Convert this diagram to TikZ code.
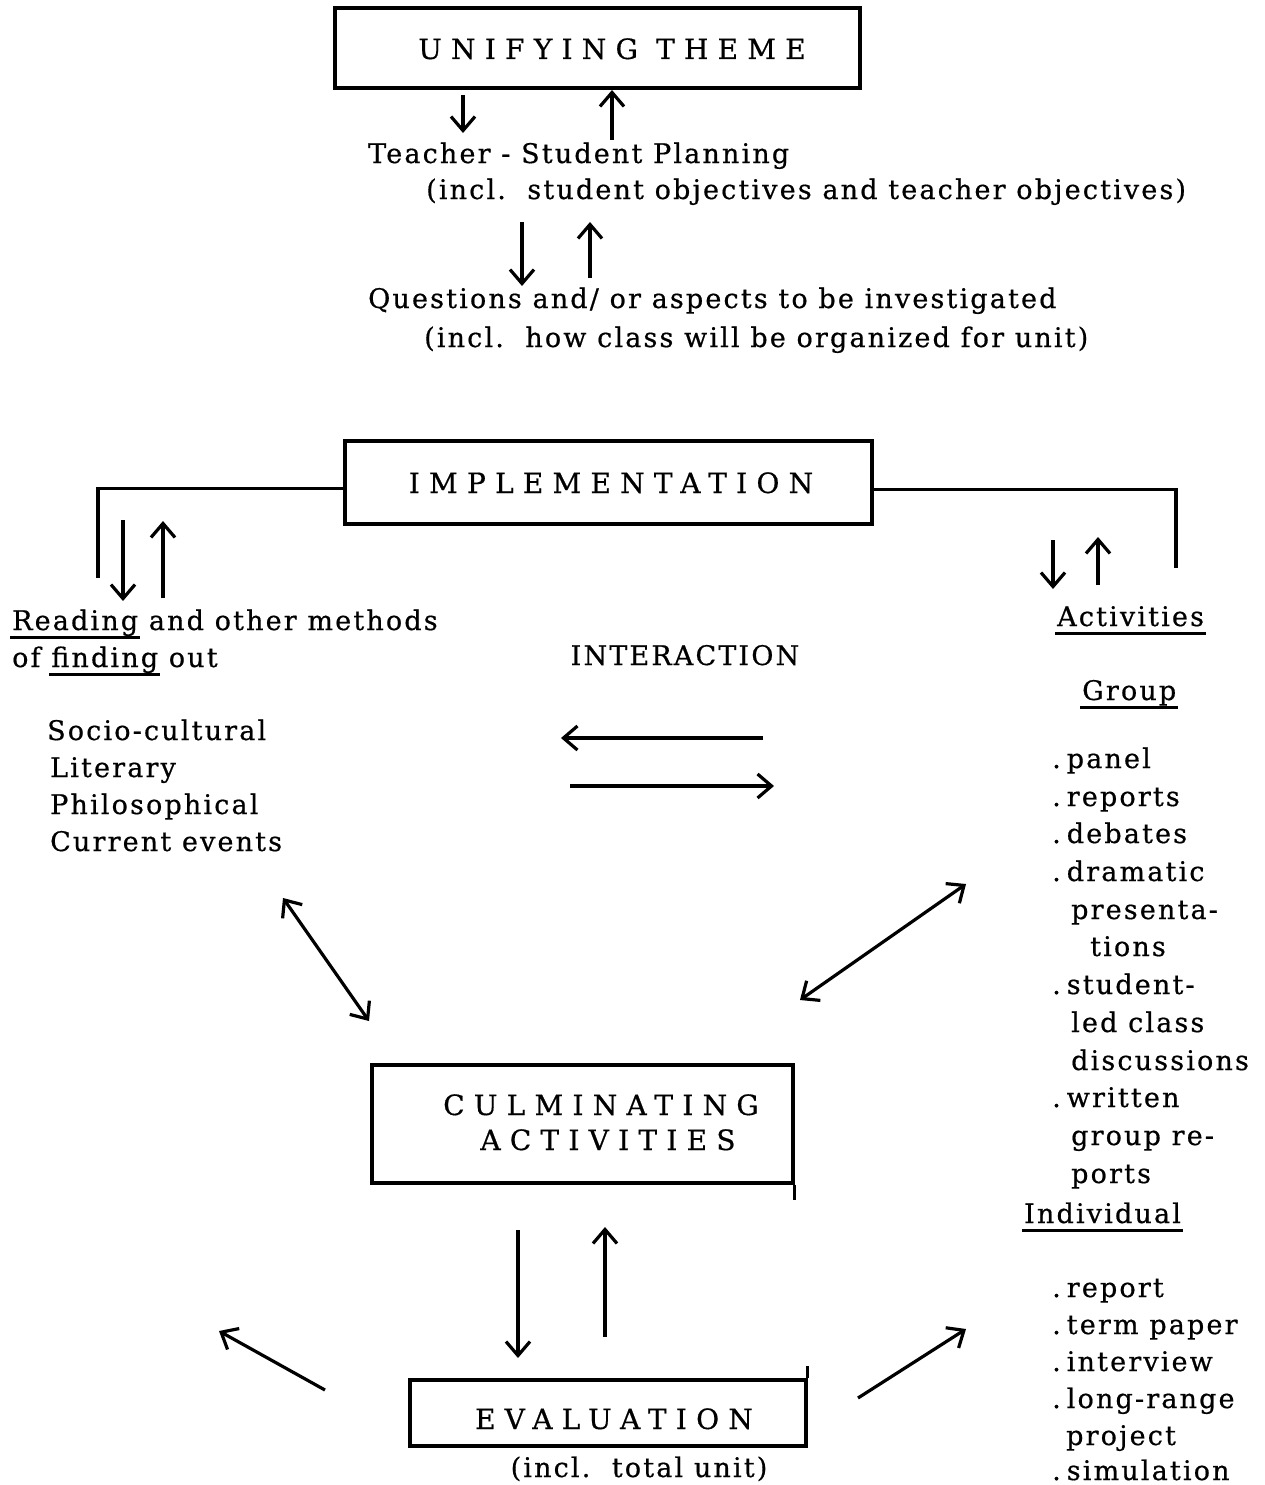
\documentclass[tikz,border=0pt]{standalone}
\usepackage{fontspec}
\setmainfont{DejaVu Serif}
\usetikzlibrary{arrows.meta}
\newcommand\bodysz{\fontsize{27}{32}\selectfont\addfontfeatures{LetterSpace=8,FakeBold=0.6}}
\newcommand\boxsz{\fontsize{28}{33}\selectfont\addfontfeatures{LetterSpace=33,FakeBold=0.6}}
\newcommand\myul[1]{\setbox0=\hbox{#1}\rlap{\kern-2pt\rule[-9pt]{\dimexpr\wd0+4pt\relax}{2.8pt}}\box0\relax}
\newcommand\bul{.\hspace{6pt}}
\tikzset{
  frame/.style={draw, line width=3.2pt, inner sep=0pt},
  conn/.style={line width=3.2pt, -{Straight Barb[length=14pt,width=24pt]}},
  dconn/.style={line width=3.2pt, {Straight Barb[length=14pt,width=24pt]}-{Straight Barb[length=14pt,width=24pt]}},
  plain/.style={line width=3.2pt},
  txt/.style={anchor=base west, inner sep=0pt, font=\bodysz},
  ctxt/.style={anchor=base, inner sep=0pt, font=\bodysz},
  btxt/.style={anchor=base, inner sep=0pt, font=\boxsz},
}
\begin{document}
\begin{tikzpicture}[x=1pt,y=-1pt]
\useasboundingbox (0,0) rectangle (1265,1485);
% boxes
\node[frame, minimum width=525, minimum height=80] (unify) at (597.5,48) {};
\node[btxt] (unifyt) at (612,59) {UNIFYING THEME};
\node[frame, minimum width=527, minimum height=83] (impl) at (608.5,482.5) {};
\node[btxt] (implt) at (611,493) {IMPLEMENTATION};
\node[frame, minimum width=421, minimum height=118] (culm) at (582.5,1124) {};
\node[btxt] (culmt1) at (601,1115) {CULMINATING};
\node[btxt] (culmt2) at (608,1150) {ACTIVITIES};
\node[frame, minimum width=396, minimum height=66] (eval) at (608,1413) {};
\node[btxt] (evalt) at (614,1429) {EVALUATION};
\node[ctxt] (evalsub) at (639,1477) {(incl.\ \ total unit)};
% texts
\node[txt] (tsp) at (368,163) {Teacher - Student Planning};
\node[txt] (tspsub) at (426,199) {(incl.\ \ student objectives and teacher objectives)};
\node[txt] (ques) at (368,308) {Questions and/ or aspects to be investigated};
\node[txt] (quessub) at (424,347) {(incl.\ \ how class will be organized for unit)};
\node[txt] (read1) at (12,630) {\myul{Reading} and other methods};
\node[txt] (read2) at (12,667) {of \myul{finding} out};
\node[ctxt] (inter) at (685,665) {INTERACTION};
\node[txt] (acts) at (1057,626) {\myul{Activities}};
\node[txt] (grp) at (1082,700) {\myul{Group}};
\node[txt] (l1) at (47,740) {Socio-cultural};
\node[txt] (l2) at (50,777) {Literary};
\node[txt] (l3) at (50,814) {Philosophical};
\node[txt] (l4) at (50,851) {Current events};
\node[txt] (g1) at (1052,768) {\bul panel};
\node[txt] (g2) at (1052,806) {\bul reports};
\node[txt] (g3) at (1052,843) {\bul debates};
\node[txt] (g4) at (1052,881) {\bul dramatic};
\node[txt] (g5) at (1071,919) {presenta-};
\node[txt] (g6) at (1090,956) {tions};
\node[txt] (g7) at (1052,994) {\bul student-};
\node[txt] (g8) at (1071,1032) {led class};
\node[txt] (g9) at (1071,1070) {discussions};
\node[txt] (g10) at (1052,1107) {\bul written};
\node[txt] (g11) at (1071,1145) {group re-};
\node[txt] (g12) at (1071,1183) {ports};
\node[txt] (indiv) at (1024,1223) {\myul{Individual}};
\node[txt] (i1) at (1052,1297) {\bul report};
\node[txt] (i2) at (1052,1334) {\bul term paper};
\node[txt] (i3) at (1052,1371) {\bul interview};
\node[txt] (i4) at (1052,1408) {\bul long-range};
\node[txt] (i5) at (1066,1445) {project};
\node[txt] (i6) at (1052,1480) {\bul simulation};
% coordinates
\coordinate (a1s) at (463,95);  \coordinate (a1e) at (463,133);
\coordinate (a2s) at (612,140); \coordinate (a2e) at (612,90);
\coordinate (a3s) at (522,222); \coordinate (a3e) at (522,286);
\coordinate (a4s) at (590,278); \coordinate (a4e) at (590,222);
\coordinate (bl) at (98,578);  \coordinate (br) at (1176,568);
\coordinate (a5s) at (123,520); \coordinate (a5e) at (123,601);
\coordinate (a6s) at (163,598); \coordinate (a6e) at (163,521);
\coordinate (a7s) at (1053,540); \coordinate (a7e) at (1053,589);
\coordinate (a8s) at (1098,585); \coordinate (a8e) at (1098,537);
\coordinate (h1s) at (763,738); \coordinate (h1e) at (561,738);
\coordinate (h2s) at (570,786); \coordinate (h2e) at (774,786);
\coordinate (d1a) at (283,898); \coordinate (d1b) at (369,1021);
\coordinate (d2a) at (966,884); \coordinate (d2b) at (800,1000);
\coordinate (a9s) at (518,1230); \coordinate (a9e) at (518,1358);
\coordinate (a10s) at (605,1337); \coordinate (a10e) at (605,1227);
\coordinate (e1s) at (325,1390); \coordinate (e1e) at (219,1331);
\coordinate (e2s) at (858,1398); \coordinate (e2e) at (966,1329);
% connectors
\draw[conn] (a1s) -- (a1e);
\draw[conn] (a2s) -- (a2e);
\draw[conn] (a3s) -- (a3e);
\draw[conn] (a4s) -- (a4e);
\draw[plain] ([yshift=-6pt]impl.west) -| (bl);
\draw[plain] ([yshift=-7pt]impl.east) -| (br);
\draw[conn] (a5s) -- (a5e);
\draw[conn] (a6s) -- (a6e);
\draw[conn] (a7s) -- (a7e);
\draw[conn] (a8s) -- (a8e);
\draw[conn] (h1s) -- (h1e);
\draw[conn] (h2s) -- (h2e);
\draw[dconn] (d1a) -- (d1b);
\draw[dconn] (d2a) -- (d2b);
\draw[conn] (a9s) -- (a9e);
\draw[conn] (a10s) -- (a10e);
\draw[conn] (e1s) -- (e1e);
\draw[conn] (e2s) -- (e2e);
\draw[plain] (culm.south east) -- ++(0,15);
\draw[plain] (eval.north east) -- ++(0,-12);
\end{tikzpicture}
\end{document}
